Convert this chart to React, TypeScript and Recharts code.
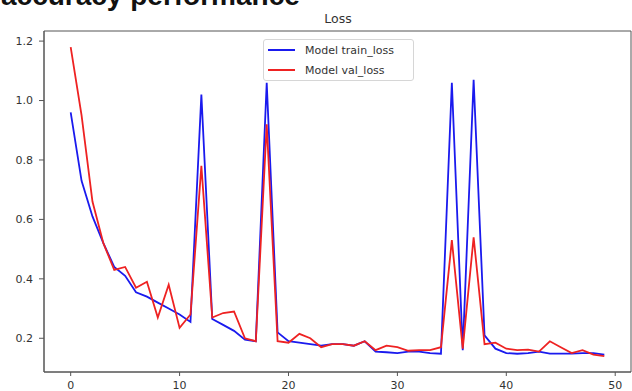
import React from 'react';
import { LineChart, Line, XAxis, YAxis, ReferenceArea } from 'recharts';

const epochs: number[] = Array.from({ length: 50 }, (_, i) => i);

const trainLoss: number[] = [
  0.96, 0.73, 0.61, 0.52, 0.44, 0.41, 0.355, 0.34, 0.32, 0.3,
  0.28, 0.255, 1.02, 0.265, 0.245, 0.225, 0.195, 0.19, 1.06, 0.22,
  0.19, 0.185, 0.18, 0.175, 0.18, 0.18, 0.175, 0.19, 0.155, 0.153,
  0.15, 0.155, 0.155, 0.15, 0.148, 1.06, 0.16, 1.07, 0.21, 0.165,
  0.15, 0.148, 0.15, 0.155, 0.148, 0.148, 0.148, 0.15, 0.15, 0.145,
];

const valLoss: number[] = [
  1.18, 0.95, 0.66, 0.52, 0.43, 0.44, 0.37, 0.39, 0.27, 0.38,
  0.235, 0.28, 0.78, 0.27, 0.285, 0.29, 0.2, 0.19, 0.92, 0.19,
  0.185, 0.215, 0.2, 0.17, 0.18, 0.18, 0.175, 0.19, 0.16, 0.175,
  0.17, 0.158, 0.16, 0.16, 0.17, 0.53, 0.165, 0.54, 0.18, 0.185,
  0.165, 0.16, 0.162, 0.155, 0.19, 0.17, 0.15, 0.16, 0.145, 0.14,
];

const xTicks: number[] = [0, 10, 20, 30, 40, 50];
const yTicks: number[] = [0.2, 0.4, 0.6, 0.8, 1.0, 1.2];
const xDomain: [number, number] = [-2.45, 51.45];
const yDomain: [number, number] = [0.0865, 1.234];

const seriesNames = ['Model train_loss', 'Model val_loss'];
const seriesColors = ['#1a1aee', '#ee2222'];

const data = epochs.map((e, i) => ({ epoch: e, train: trainLoss[i], val: valLoss[i] }));

const FONT = '"DejaVu Sans", sans-serif';

const LegendBox = () => (
  <div
    style={{
      position: 'absolute',
      left: 263,
      top: 39,
      width: 151,
      height: 42,
      border: '1px solid #d6d6d6',
      borderRadius: 3,
      background: 'rgba(255,255,255,0.85)',
      boxSizing: 'border-box',
      fontFamily: FONT,
      fontSize: 11,
      color: '#333',
    }}
  >
    {seriesNames.map((n, i) => (
      <div key={n} style={{ position: 'absolute', left: 4, top: 2 + i * 20, height: 16, display: 'flex', alignItems: 'center', whiteSpace: 'nowrap' }}>
        <div style={{ width: 27, height: 2, background: seriesColors[i], marginRight: 10 }} />
        <span>{n}</span>
      </div>
    ))}
  </div>
);

export default function App() {
  return (
    <div style={{ position: 'absolute', left: 0, top: 0, width: 632, height: 391, overflow: 'hidden', background: '#fff' }}>
      <div
        style={{
          position: 'absolute',
          left: 1,
          top: -20,
          fontFamily: '"Liberation Sans", Arial, sans-serif',
          fontWeight: 'bold',
          fontSize: 28,
          lineHeight: 'normal',
          color: '#111',
          whiteSpace: 'nowrap',
        }}
      >
        accuracy performance
      </div>
      <div
        style={{
          position: 'absolute',
          left: 0,
          width: 676,
          top: 11,
          textAlign: 'center',
          fontFamily: FONT,
          fontSize: 12.5,
          color: '#333',
        }}
      >
        Loss
      </div>
      <div style={{ position: 'absolute', left: 0, top: 0 }}>
        <LineChart width={632} height={391} data={data} margin={{ top: 31, right: 1, bottom: 0, left: 0 }}>
          <XAxis
            dataKey="epoch"
            type="number"
            domain={xDomain}
            ticks={xTicks}
            allowDataOverflow
            height={19}
            tickSize={4}
            tickMargin={5}
            tickLine={{ stroke: '#555' }}
            axisLine={{ stroke: '#555' }}
            tick={{ fill: '#333', fontSize: 11, fontFamily: FONT }}
          />
          <YAxis
            type="number"
            domain={yDomain}
            ticks={yTicks}
            allowDataOverflow
            width={44}
            tickSize={5}
            tickMargin={6}
            tickLine={{ stroke: '#555' }}
            axisLine={{ stroke: '#555' }}
            tickFormatter={(v: number) => v.toFixed(1)}
            tick={{ fill: '#333', fontSize: 11, fontFamily: FONT }}
          />
          <ReferenceArea
            x1={xDomain[0]}
            x2={xDomain[1]}
            y1={yDomain[0]}
            y2={yDomain[1]}
            fill="none"
            stroke="#555"
            strokeWidth={1}
            ifOverflow="visible"
          />
          <Line
            type="linear"
            dataKey="train"
            name={seriesNames[0]}
            stroke={seriesColors[0]}
            strokeWidth={1.8}
            dot={false}
            isAnimationActive={false}
          />
          <Line
            type="linear"
            dataKey="val"
            name={seriesNames[1]}
            stroke={seriesColors[1]}
            strokeWidth={1.8}
            dot={false}
            isAnimationActive={false}
          />
        </LineChart>
      </div>
      <LegendBox />
    </div>
  );
}
